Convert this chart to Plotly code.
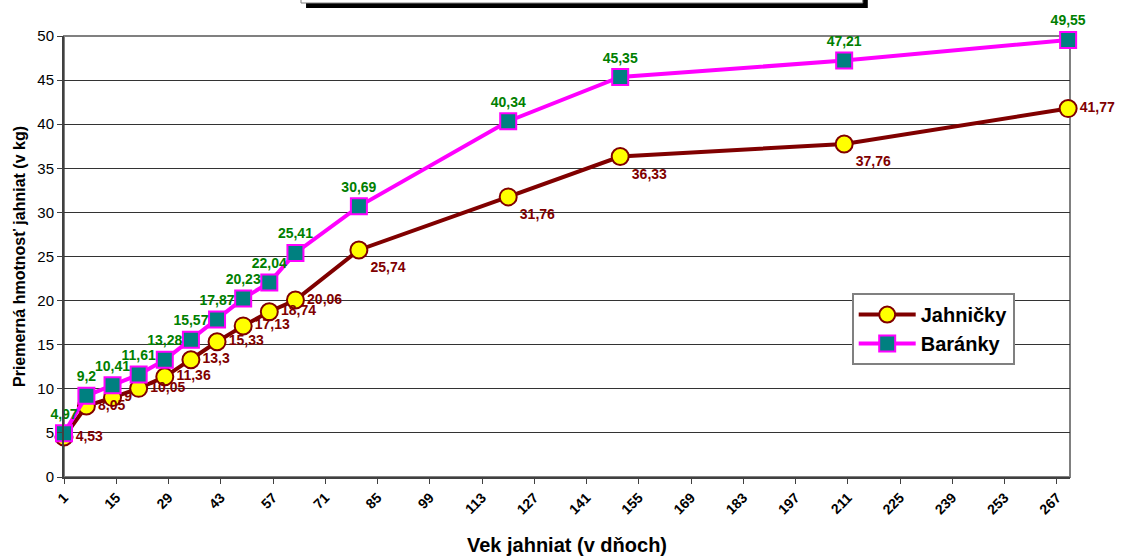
import plotly.graph_objects as go

days = [1, 7, 14, 21, 28, 35, 42, 49, 56, 63, 80, 120, 150, 210, 270]
jahnicky = [4.53, 8.05, 9, 10.05, 11.36, 13.3, 15.33, 17.13, 18.74, 20.06, 25.74, 31.76, 36.33, 37.76, 41.77]
baranky = [4.97, 9.2, 10.41, 11.61, 13.28, 15.57, 17.87, 20.23, 22.04, 25.41, 30.69, 40.34, 45.35, 47.21, 49.55]
x_ticks = [1, 15, 29, 43, 57, 71, 85, 99, 113, 127, 141, 155, 169, 183, 197, 211, 225, 239, 253, 267]
y_ticks = [0, 5, 10, 15, 20, 25, 30, 35, 40, 45, 50]


def fmt(v):
    return f"{v:g}".replace(".", ",")


FONT = "Arial, Liberation Sans, sans-serif"

fig = go.Figure()
fig.add_trace(go.Scatter(
    x=days, y=jahnicky, name="Jahničky", mode="lines+markers+text",
    line=dict(color="#800000", width=4),
    marker=dict(symbol="circle", size=17, color="#FFFF00", line=dict(color="#800000", width=2)),
    text=[fmt(v) for v in jahnicky],
    textposition=["middle right"] * 10 + ["bottom right"] * 4 + ["middle right"],
    textfont=dict(family=FONT, size=14, color="#800000", weight="bold"),
    cliponaxis=False,
))
fig.add_trace(go.Scatter(
    x=days, y=baranky, name="Baránky", mode="lines+markers+text",
    line=dict(color="#FF00FF", width=4),
    marker=dict(symbol="square", size=16, color="#008080", line=dict(color="#FF00FF", width=2)),
    text=[fmt(v) for v in baranky],
    textposition="top center",
    textfont=dict(family=FONT, size=14, color="#008000", weight="bold"),
    cliponaxis=False,
))

fig.update_layout(
    width=1126, height=559,
    margin=dict(l=64, r=56, t=36, b=82),
    paper_bgcolor="white", plot_bgcolor="white",
    font=dict(family=FONT, color="black"),
    showlegend=True,
    legend=dict(
        x=0.783, y=0.417, xanchor="left", yanchor="top",
        bgcolor="white", bordercolor="#808080", borderwidth=2,
        font=dict(family=FONT, size=20, color="black", weight="bold"),
        itemwidth=57,
    ),
    xaxis=dict(
        range=[1, 270.5], tickmode="array", tickvals=x_ticks, ticktext=[str(t) for t in x_ticks],
        tickangle=-45, tickfont=dict(family=FONT, size=14, color="black", weight="bold"),
        ticks="outside", ticklen=5, tickcolor="#404040", tickwidth=1,
        showgrid=False, zeroline=False, automargin=False,
        showline=True, linecolor="#404040", linewidth=2,
        title=dict(text="Vek jahniat (v dňoch)", font=dict(family=FONT, size=20, color="black", weight="bold"), standoff=22),
    ),
    yaxis=dict(
        range=[0, 50], tickmode="array", tickvals=y_ticks,
        tickfont=dict(family=FONT, size=15, color="black"),
        ticks="outside", ticklen=5, tickcolor="#404040", tickwidth=1,
        showgrid=True, gridcolor="#333333", gridwidth=1, zeroline=False, automargin=False,
        showline=True, linecolor="#404040", linewidth=2,
        title=dict(text="Priemerná hmotnosť jahniat (v kg)", font=dict(family=FONT, size=16, color="black", weight="bold"), standoff=8),
    ),
    shapes=[
        dict(type="rect", xref="paper", yref="paper", x0=0, x1=1, y0=0, y1=1,
             line=dict(color="#808080", width=2), fillcolor="rgba(0,0,0,0)", layer="below"),
        dict(type="rect", xref="paper", yref="paper", x0=0.2406, x1=0.799, y0=1.0635, y1=1.1,
             line=dict(width=0), fillcolor="black"),
        dict(type="rect", xref="paper", yref="paper", x0=0.2356, x1=0.794, y0=1.0748, y1=1.12,
             line=dict(color="#808080", width=1), fillcolor="white"),
    ],
)

fig.write_html("out.html", config={"displayModeBar": False},
               post_script="document.body.style.margin='0';")
